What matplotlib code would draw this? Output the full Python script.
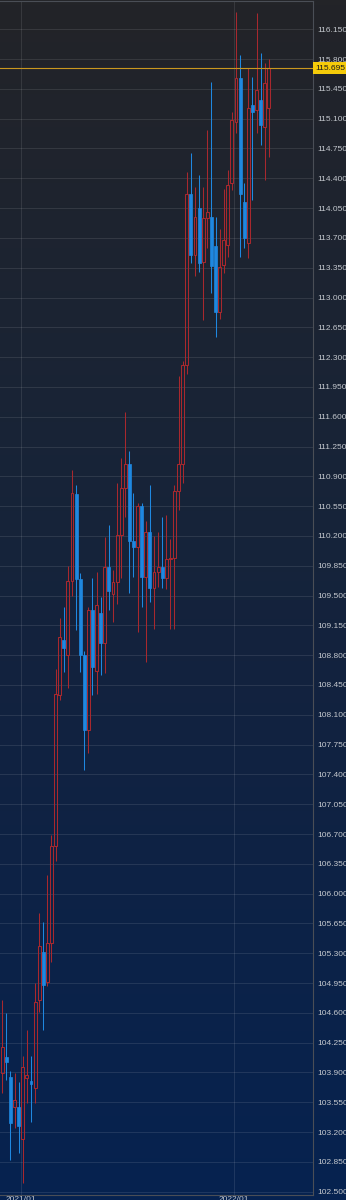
import matplotlib
matplotlib.use("Agg")
import matplotlib.pyplot as plt
import numpy as np
from matplotlib.patches import Rectangle
import matplotlib.transforms as mtransforms

# Weekly OHLC
opens = [103.89, 104.08, 103.85, 103.49, 103.50, 103.12, 103.84, 103.80, 103.72, 104.75,
         105.31, 104.96, 105.42, 106.56, 108.33, 108.98, 108.80, 109.67, 110.69, 109.69,
         108.80, 107.92, 109.33, 108.62, 109.30, 108.94, 109.84, 109.52, 109.66, 110.21,
         110.76, 111.05, 110.14, 110.07, 110.55, 109.72, 110.25, 109.59, 109.78, 109.83,
         109.71, 109.93, 109.94, 110.73, 111.05, 112.21, 114.21, 113.50, 114.05, 113.42,
         113.93, 113.95, 113.60, 112.83, 113.38, 113.62, 114.35, 115.06, 115.58, 114.12,
         113.64, 115.26, 115.20, 115.32, 115.00, 115.23]
highs = [104.75, 104.60, 103.92, 103.89, 103.79, 104.09, 104.40, 104.09, 104.95, 105.77,
         105.67, 106.22, 106.69, 108.64, 109.24, 109.37, 109.85, 110.97, 110.80, 109.77,
         108.85, 109.37, 109.71, 109.78, 109.48, 110.19, 110.33, 109.80, 110.82, 111.11,
         111.66, 111.20, 110.70, 110.59, 110.59, 110.37, 110.80, 110.20, 110.25, 110.42,
         110.45, 110.16, 110.80, 112.08, 112.25, 114.47, 114.70, 114.30, 114.44, 114.30,
         114.97, 115.53, 113.95, 113.80, 114.27, 114.50, 115.18, 116.35, 115.85, 114.35,
         115.69, 115.59, 116.34, 115.87, 115.75, 115.80]
lows = [103.66, 103.81, 102.87, 103.25, 102.95, 102.60, 103.54, 103.32, 103.54, 104.61,
        104.40, 104.92, 105.20, 106.38, 108.27, 108.60, 108.41, 109.50, 109.10, 108.60,
        107.45, 107.65, 108.33, 108.34, 108.57, 108.59, 109.33, 109.19, 109.40, 109.71,
        110.42, 109.53, 109.72, 109.07, 109.36, 108.72, 109.43, 109.11, 109.60, 109.59,
        109.58, 109.11, 109.11, 110.50, 110.82, 112.10, 113.41, 113.25, 113.30, 112.74,
        113.58, 113.05, 112.54, 112.75, 113.29, 113.48, 114.26, 114.93, 113.48, 113.58,
        113.46, 114.15, 114.93, 114.79, 114.38, 114.65]
closes = [104.20, 104.02, 103.31, 103.58, 103.27, 103.96, 103.87, 103.77, 104.73, 105.39,
          104.93, 105.42, 106.56, 108.34, 109.01, 108.88, 109.67, 110.70, 109.69, 108.80,
          107.92, 109.33, 108.66, 109.39, 108.94, 109.84, 109.55, 109.66, 110.21, 110.76,
          111.05, 110.14, 110.07, 110.55, 109.72, 110.25, 109.59, 109.78, 109.83, 109.71,
          109.93, 109.94, 110.73, 111.05, 112.21, 114.21, 113.50, 113.95, 113.41, 113.93,
          114.00, 113.37, 112.83, 113.36, 113.68, 114.32, 115.08, 115.58, 114.21, 113.70,
          115.23, 115.18, 115.44, 115.03, 115.52, 115.695]

year_ticks = [4.5, 56.5]
year_labels = ["2021/01", "2022/01"]
ytick_vals = [round(102.5 + 0.35 * k, 3) for k in range(40)]
current_price = 115.695

W, H = 346, 1200
fig = plt.figure(figsize=(W / 100, H / 100), dpi=100)

# gradient background
bg = fig.add_axes([0, 0, 1, 1], zorder=-10)
top = np.array([35, 36, 40]) / 255.0
bot = np.array([6, 34, 80]) / 255.0
t = np.linspace(0, 1, 256)[:, None]
grad = (top[None, :] * (1 - t) + bot[None, :] * t)[:, None, :]
bg.imshow(grad, aspect="auto", extent=[0, 1, 0, 1], origin="upper")
bg.set_axis_off()

ax = fig.add_axes([0, 5 / H, 313 / W, 1194 / H])
ax.set_facecolor("none")
ax.set_xlim(-0.56, 75.78)
ax.set_ylim(102.461, 116.482)

up_col = "#a8282e"
dn_col = "#1f88e0"
bw = 0.72
for i, (o, h, l, c) in enumerate(zip(opens, highs, lows, closes)):
    if c >= o:
        ax.vlines(i, l, o, color=up_col, lw=0.75, zorder=3)
        ax.vlines(i, c, h, color=up_col, lw=0.75, zorder=3)
        ax.add_patch(Rectangle((i - bw / 2, o), bw, c - o, facecolor="none",
                               edgecolor=up_col, lw=0.75, zorder=3))
    else:
        ax.vlines(i, l, h, color=dn_col, lw=0.75, zorder=3)
        ax.add_patch(Rectangle((i - bw / 2, c), bw, o - c, facecolor=dn_col,
                               edgecolor=dn_col, lw=0.5, zorder=4))

grid_col = (1, 1, 1, 0.10)
for v in ytick_vals:
    ax.axhline(v, color=grid_col, lw=0.7, zorder=1)
for xv in year_ticks:
    ax.axvline(xv, color=grid_col, lw=0.7, zorder=1)

ax.axhline(current_price, color="#c9971f", lw=0.8, zorder=5)

ax.yaxis.tick_right()
ax.set_yticks(ytick_vals)
ax.set_yticklabels([f"{v:.3f}" for v in ytick_vals])
ax.tick_params(axis="y", length=0, pad=3, labelsize=6, labelcolor="#c4c8ce")
ax.set_xticks(year_ticks)
ax.set_xticklabels(year_labels)
ax.tick_params(axis="x", length=0, pad=1, labelsize=6, labelcolor="#c4c8ce")
for lab in ax.get_yticklabels() + ax.get_xticklabels():
    lab.set_fontfamily("Liberation Sans")

ax.spines["left"].set_visible(False)
for s in ["top", "right", "bottom"]:
    ax.spines[s].set_color("#4a4e56")
    ax.spines[s].set_linewidth(0.8)

trans = mtransforms.blended_transform_factory(ax.transAxes, ax.transData)
trans = trans + mtransforms.ScaledTranslation(2.5 / 100, 0, fig.dpi_scale_trans)
ax.text(1.0, current_price, "115.695", transform=trans, ha="left", va="center",
        fontsize=6, family="Liberation Sans", color="#1a1a1a", zorder=10,
        bbox=dict(boxstyle="square,pad=0.3", facecolor="#f5cb0a", edgecolor="none"),
        clip_on=False)

fig.savefig("out.png", dpi=100)
